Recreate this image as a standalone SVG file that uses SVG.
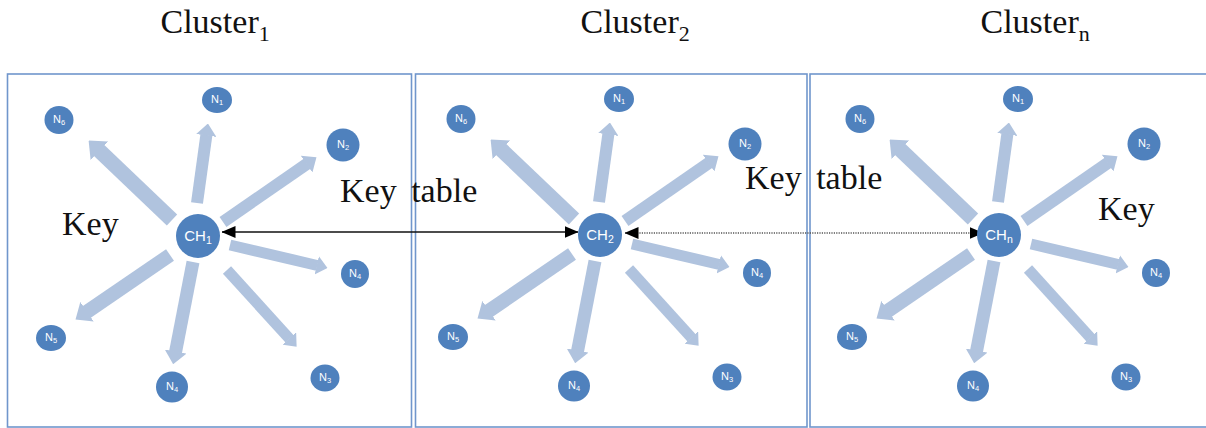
<svg xmlns="http://www.w3.org/2000/svg" width="1206" height="428" viewBox="0 0 1206 428">
<style>
.box{fill:none;stroke:#7096cc;stroke-width:1.6}
.title{font-family:"Liberation Serif","Times New Roman",serif;font-size:34px;fill:#111}
.title .sub{font-size:22px}
.lbl{font-family:"Liberation Serif","Times New Roman",serif;font-size:34px;fill:#111}
.node ellipse,.node circle{fill:#4f81bd}
.node text{font-family:"Liberation Sans",Arial,sans-serif;font-size:11px;fill:#fff;text-anchor:middle}
.node text .s{font-size:7.5px}
.ch text{font-size:15px}
.ch text .s{font-size:10.5px}
.fat{stroke:#b0c3de;fill:none;marker-end:url(#fatHead)}
.key{stroke:#111;stroke-width:1.6;fill:none;marker-start:url(#blk);marker-end:url(#blk)}
.dot{stroke:#555;stroke-width:1.6;stroke-dasharray:1.2 1.2;fill:none;marker-start:url(#blk);marker-end:url(#blk)}
</style>
<defs>
<marker id="fatHead" markerUnits="strokeWidth" markerWidth="1" markerHeight="1.7" viewBox="0 0 10 17" refX="0.5" refY="8.5" orient="auto">
<path d="M0,0 L10,8.5 L0,17 z" fill="#b0c3de"/>
</marker>
<marker id="blk" markerUnits="userSpaceOnUse" markerWidth="14" markerHeight="12" viewBox="0 0 14 12" refX="13.5" refY="6" orient="auto-start-reverse">
<path d="M0,0 L14,6 L0,12 z" fill="#000"/>
</marker>
</defs>

<g id="boxes">
<rect id="box1" class="box" x="7.5" y="74" width="404" height="353"/>
<rect id="box2" class="box" x="415.5" y="74" width="391.5" height="353"/>
<rect id="box3" class="box" x="810" y="74" width="400" height="353"/>
</g>

<g id="titles">
<text class="title" x="160.5" y="33">Cluster<tspan class="sub" dy="8">1</tspan></text>
<text class="title" x="580.5" y="33">Cluster<tspan class="sub" dy="8">2</tspan></text>
<text class="title" x="980.5" y="33">Cluster<tspan class="sub" dy="8">n</tspan></text>
</g>

<g id="labels">
<text class="lbl" x="62" y="235">Key</text>
<text class="lbl" x="340" y="202" word-spacing="6">Key table</text>
<text class="lbl" x="745" y="189" word-spacing="6">Key table</text>
<text class="lbl" x="1098" y="220">Key</text>
</g>

<g id="connectors">
<g id="c1-arrows">
<line class="fat" stroke-width="12" x1="197" y1="203" x2="206.4" y2="134.9"/>
<line class="fat" stroke-width="15" x1="172" y1="220" x2="98.9" y2="150.3"/>
<line class="fat" stroke-width="12" x1="223" y1="222" x2="307.1" y2="163.8"/>
<line class="fat" stroke-width="11" x1="230" y1="245" x2="317.3" y2="265.5"/>
<line class="fat" stroke-width="11" x1="227" y1="270" x2="289.6" y2="338.9"/>
<line class="fat" stroke-width="13" x1="193" y1="262" x2="175.5" y2="352.2"/>
<line class="fat" stroke-width="14" x1="170" y1="255" x2="86.5" y2="312.1"/>
</g>
<g id="c2-arrows" transform="translate(402,-1)">
<line class="fat" stroke-width="12" x1="197" y1="203" x2="206.4" y2="134.9"/>
<line class="fat" stroke-width="15" x1="172" y1="220" x2="98.9" y2="150.3"/>
<line class="fat" stroke-width="12" x1="223" y1="222" x2="307.1" y2="163.8"/>
<line class="fat" stroke-width="11" x1="230" y1="245" x2="317.3" y2="265.5"/>
<line class="fat" stroke-width="11" x1="227" y1="270" x2="289.6" y2="338.9"/>
<line class="fat" stroke-width="13" x1="193" y1="262" x2="175.5" y2="352.2"/>
<line class="fat" stroke-width="14" x1="170" y1="255" x2="86.5" y2="312.1"/>
</g>
<g id="cn-arrows" transform="translate(801,-1)">
<line class="fat" stroke-width="12" x1="197" y1="203" x2="206.4" y2="134.9"/>
<line class="fat" stroke-width="15" x1="172" y1="220" x2="98.9" y2="150.3"/>
<line class="fat" stroke-width="12" x1="223" y1="222" x2="307.1" y2="163.8"/>
<line class="fat" stroke-width="11" x1="230" y1="245" x2="317.3" y2="265.5"/>
<line class="fat" stroke-width="11" x1="227" y1="270" x2="289.6" y2="338.9"/>
<line class="fat" stroke-width="13" x1="193" y1="262" x2="175.5" y2="352.2"/>
<line class="fat" stroke-width="14" x1="170" y1="255" x2="86.5" y2="312.1"/>
</g>
<line id="key-ch1-ch2" class="key" x1="222" y1="232" x2="578" y2="232"/>
<line id="key-ch2-chn" class="dot" x1="625" y1="233" x2="983" y2="233"/>
</g>

<g id="cluster1">
<g id="c1-ch" class="node ch"><circle cx="198" cy="236" r="22"/><text x="198" y="241">CH<tspan class="s" dy="3">1</tspan></text></g>
<g id="c1-n1" class="node"><ellipse cx="217" cy="100" rx="15" ry="13"/><text x="217" y="103">N<tspan class="s" dy="2">1</tspan></text></g>
<g id="c1-n6" class="node"><ellipse cx="59" cy="120" rx="14.5" ry="14"/><text x="59" y="123">N<tspan class="s" dy="2">6</tspan></text></g>
<g id="c1-n2" class="node"><ellipse cx="343" cy="145" rx="16.5" ry="16.5"/><text x="343" y="148">N<tspan class="s" dy="2">2</tspan></text></g>
<g id="c1-n4a" class="node"><ellipse cx="355" cy="274" rx="14" ry="14"/><text x="355" y="277">N<tspan class="s" dy="2">4</tspan></text></g>
<g id="c1-n5" class="node"><ellipse cx="51" cy="338" rx="15" ry="13"/><text x="51" y="341">N<tspan class="s" dy="2">5</tspan></text></g>
<g id="c1-n4b" class="node"><ellipse cx="172" cy="387" rx="16" ry="15.5"/><text x="172" y="390">N<tspan class="s" dy="2">4</tspan></text></g>
<g id="c1-n3" class="node"><ellipse cx="325" cy="378" rx="14.5" ry="13.5"/><text x="325" y="381">N<tspan class="s" dy="2">3</tspan></text></g>
</g>

<g id="cluster2" transform="translate(402,-1)">
<g id="c2-ch" class="node ch"><circle cx="198" cy="236" r="22"/><text x="198" y="241">CH<tspan class="s" dy="3">2</tspan></text></g>
<g id="c2-n1" class="node"><ellipse cx="217" cy="100" rx="15" ry="13"/><text x="217" y="103">N<tspan class="s" dy="2">1</tspan></text></g>
<g id="c2-n6" class="node"><ellipse cx="59" cy="120" rx="14.5" ry="14"/><text x="59" y="123">N<tspan class="s" dy="2">6</tspan></text></g>
<g id="c2-n2" class="node"><ellipse cx="343" cy="145" rx="16.5" ry="16.5"/><text x="343" y="148">N<tspan class="s" dy="2">2</tspan></text></g>
<g id="c2-n4a" class="node"><ellipse cx="355" cy="274" rx="14" ry="14"/><text x="355" y="277">N<tspan class="s" dy="2">4</tspan></text></g>
<g id="c2-n5" class="node"><ellipse cx="51" cy="338" rx="15" ry="13"/><text x="51" y="341">N<tspan class="s" dy="2">5</tspan></text></g>
<g id="c2-n4b" class="node"><ellipse cx="172" cy="387" rx="16" ry="15.5"/><text x="172" y="390">N<tspan class="s" dy="2">4</tspan></text></g>
<g id="c2-n3" class="node"><ellipse cx="325" cy="378" rx="14.5" ry="13.5"/><text x="325" y="381">N<tspan class="s" dy="2">3</tspan></text></g>
</g>

<g id="clustern" transform="translate(801,-1)">
<g id="cn-ch" class="node ch"><circle cx="198" cy="236" r="22"/><text x="198" y="241">CH<tspan class="s" dy="3">n</tspan></text></g>
<g id="cn-n1" class="node"><ellipse cx="217" cy="100" rx="15" ry="13"/><text x="217" y="103">N<tspan class="s" dy="2">1</tspan></text></g>
<g id="cn-n6" class="node"><ellipse cx="59" cy="120" rx="14.5" ry="14"/><text x="59" y="123">N<tspan class="s" dy="2">6</tspan></text></g>
<g id="cn-n2" class="node"><ellipse cx="343" cy="145" rx="16.5" ry="16.5"/><text x="343" y="148">N<tspan class="s" dy="2">2</tspan></text></g>
<g id="cn-n4a" class="node"><ellipse cx="355" cy="274" rx="14" ry="14"/><text x="355" y="277">N<tspan class="s" dy="2">4</tspan></text></g>
<g id="cn-n5" class="node"><ellipse cx="51" cy="338" rx="15" ry="13"/><text x="51" y="341">N<tspan class="s" dy="2">5</tspan></text></g>
<g id="cn-n4b" class="node"><ellipse cx="172" cy="387" rx="16" ry="15.5"/><text x="172" y="390">N<tspan class="s" dy="2">4</tspan></text></g>
<g id="cn-n3" class="node"><ellipse cx="325" cy="378" rx="14.5" ry="13.5"/><text x="325" y="381">N<tspan class="s" dy="2">3</tspan></text></g>
</g>
</svg>
